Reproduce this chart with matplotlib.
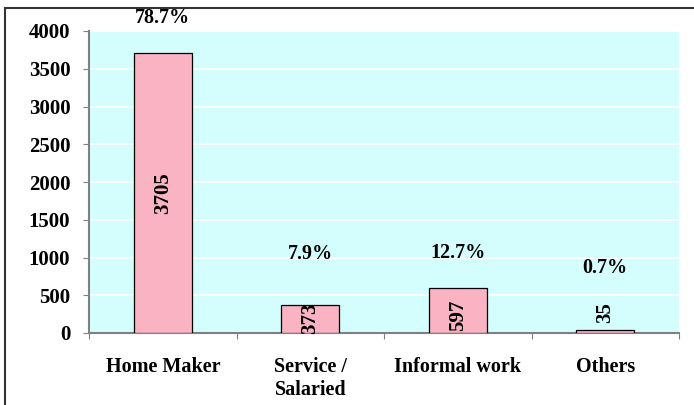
import matplotlib
matplotlib.use("Agg")
import matplotlib.pyplot as plt
from matplotlib.lines import Line2D

categories = ["Home Maker", "Service /\nSalaried", "Informal work", "Others"]
values = [3705, 373, 597, 35]
percent_labels = ["78.7%", "7.9%", "12.7%", "0.7%"]
percent_y = [4170, 1040, 1065, 865]
value_label_y = [1850, 200, 240, 275]
yticks = [0, 500, 1000, 1500, 2000, 2500, 3000, 3500, 4000]

plt.rcParams['font.family'] = ['Liberation Serif', 'DejaVu Serif']
plt.rcParams['font.weight'] = 'bold'

W, H = 694, 405
fig = plt.figure(figsize=(W/100, H/100), dpi=100)
ax = fig.add_axes([89/W, 1-333/H, (679-89)/W, (333-31)/H])
ax.set_facecolor('#D4FEFE')

x = list(range(len(categories)))
ax.bar(x, values, width=0.39, color='#F9B3C3', edgecolor='black', linewidth=0.9, zorder=3)

ax.set_xlim(-0.5, 3.5)
ax.set_ylim(0, 4000)
ax.set_yticks(yticks)
ax.set_yticklabels([str(v) for v in yticks], fontsize=15, fontweight='bold')
ax.yaxis.grid(True, color='white', linewidth=1.3, zorder=0)
ax.set_axisbelow(True)

ax.set_xticks([-0.5, 0.5, 1.5, 2.5, 3.5])
ax.set_xticklabels([])
ax.set_xticks(x, minor=True)
ax.set_xticklabels(categories, minor=True, fontsize=14.5, fontweight='bold', linespacing=1.2, va='top')
ax.tick_params(axis='x', which='minor', length=0, pad=17)
ax.tick_params(axis='x', which='major', length=4, color='#808080', direction='out')
ax.tick_params(axis='y', length=4, color='#808080', direction='out', pad=9.5)

for s in ['top', 'right']:
    ax.spines[s].set_visible(False)
for s in ['left', 'bottom']:
    ax.spines[s].set_color('#808080')
    ax.spines[s].set_linewidth(1.5)

for xi, p, py in zip(x, percent_labels, percent_y):
    ax.text(xi, py, p, ha='center', va='center', fontsize=14.5, fontweight='bold', clip_on=False)
for xi, v, vy in zip(x, values, value_label_y):
    ax.text(xi, vy, str(v), ha='center', va='center', rotation=90, fontsize=15, fontweight='bold', zorder=4)

# figure border (top and left)
fig.add_artist(Line2D([5/W, 5/W], [0, 1-8/H], transform=fig.transFigure, color='#333333', linewidth=1.5))
fig.add_artist(Line2D([5/W, 1], [1-8/H, 1-8/H], transform=fig.transFigure, color='#333333', linewidth=1.5))

fig.savefig('out.png', dpi=100)
